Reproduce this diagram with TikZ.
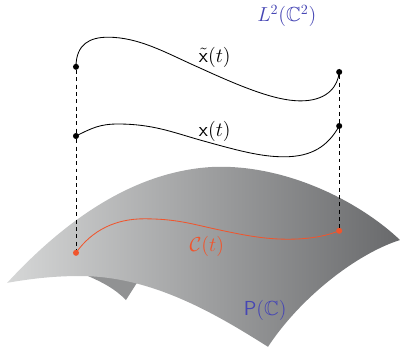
\documentclass[tikz,border=0pt]{standalone}
\usepackage{amsmath,amssymb}
\usepackage{tikz}
\definecolor{surfleft}{RGB}{214,215,215}
\definecolor{surfright}{RGB}{104,105,107}
\definecolor{flapgray}{RGB}{145,146,147}
\definecolor{spaceblue}{RGB}{70,70,180}
\definecolor{curveorange}{RGB}{240,85,45}
\begin{document}
\begin{tikzpicture}[
  lbl/.style={font=\fontsize{14.5}{17}\selectfont},
  lift/.style={dash pattern=on 2.8pt off 2.4pt,line width=0.5pt},
  path/.style={line width=0.6pt},
  dot/.style={circle,fill=black,inner sep=0pt,minimum size=4.3pt},
  rdot/.style={circle,fill=curveorange,inner sep=0pt,minimum size=4.3pt}]
\useasboundingbox (0,0) rectangle (10,8.85);
\fill[flapgray] (1.95,2.05) .. controls (2.6,1.8) and (2.9,1.6) .. (3.15,1.35) -- (3.5,1.9) -- (2.5,2.15) -- cycle;
\shade[left color=surfleft,right color=surfright] (0.18,1.78)
  .. controls (1.4,3.1) and (3.2,4.6) .. (5.4,4.68)
  .. controls (7.2,4.72) and (9.0,3.8) .. (10.0,2.85)
  .. controls (8.9,2.5) and (7.5,1.4) .. (6.7,0.18)
  .. controls (5.4,1.0) and (3.8,1.95) .. (2.0,1.95)
  .. controls (1.2,1.95) and (0.6,1.85) .. (0.18,1.78) -- cycle;
\node[dot] (xtl) at (1.9,7.18) {};
\node[dot] (xtr) at (8.48,7.05) {};
\node[dot] (xl) at (1.9,5.45) {};
\node[dot] (xr) at (8.48,5.7) {};
\node[rdot] (cl) at (1.9,2.53) {};
\node[rdot] (cr) at (8.48,3.08) {};
\draw[lift] (xtl) -- (xl) -- (cl);
\draw[lift] (xtr) -- (xr) -- (cr);
\draw[path] (xtl.center) .. controls (1.9,7.75) and (2.25,7.92) .. (2.7,7.92)
  .. controls (3.5,7.92) and (4.2,7.5) .. (5.0,7.15)
  .. controls (6.2,6.6) and (7.0,6.3) .. (7.6,6.33)
  .. controls (8.2,6.36) and (8.45,6.7) .. (xtr.center);
\draw[path] (xl.center) .. controls (2.3,5.65) and (2.5,5.75) .. (2.95,5.75)
  .. controls (3.8,5.75) and (4.3,5.55) .. (5.0,5.35)
  .. controls (5.9,5.1) and (6.5,4.93) .. (7.1,4.93)
  .. controls (7.8,4.93) and (8.2,5.2) .. (xr.center);
\draw[path,curveorange] (cl.center) .. controls (2.3,3.1) and (2.9,3.38) .. (3.6,3.38)
  .. controls (4.4,3.38) and (4.8,3.25) .. (5.4,3.12)
  .. controls (6.1,2.97) and (6.6,2.87) .. (7.2,2.87)
  .. controls (7.8,2.87) and (8.2,2.97) .. (cr.center);
\node[lbl] (xtlabel) at (5.37,7.42) {$\tilde{\mathsf{x}}(t)$};
\node[lbl] (xlabel) at (5.37,5.57) {$\mathsf{x}(t)$};
\node[lbl,curveorange] (clabel) at (5.17,2.7) {$\mathcal{C}(t)$};
\node[lbl,spaceblue] (plabel) at (6.63,1.1) {$\mathsf{P}(\mathbb{C})$};
\node[lbl,spaceblue] (llabel) at (7.17,8.45) {$L^2(\mathbb{C}^2)$};
\end{tikzpicture}
\end{document}
